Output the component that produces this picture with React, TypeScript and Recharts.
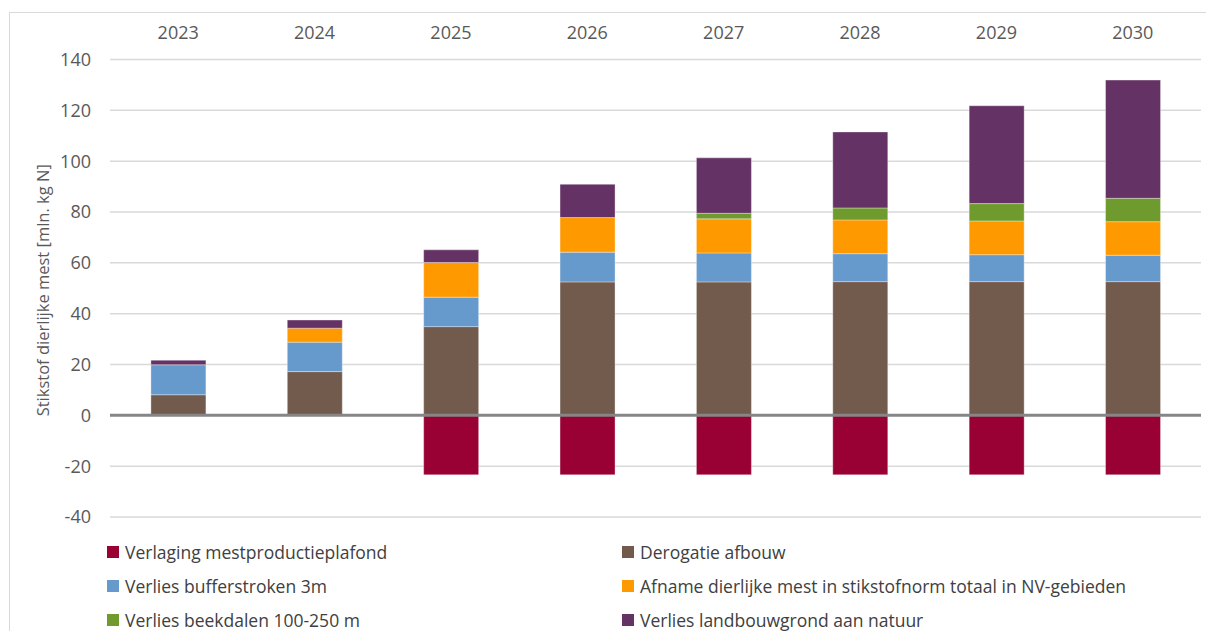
import { BarChart, Bar, XAxis, YAxis, CartesianGrid, ReferenceLine, Legend } from 'recharts'

const years = ['2023', '2024', '2025', '2026', '2027', '2028', '2029', '2030']

// mln. kg N
const verlaging = [0, 0, -23.4, -23.4, -23.4, -23.4, -23.4, -23.4]
const derogatie = [8.1, 17.2, 34.9, 52.5, 52.5, 52.6, 52.6, 52.6]
const bufferstroken = [11.8, 11.6, 11.6, 11.7, 11.4, 11.0, 10.6, 10.4]
const afname = [0, 5.5, 13.6, 13.6, 13.4, 13.3, 13.3, 13.2]
const beekdalen = [0, 0, 0, 0, 2.2, 4.7, 6.8, 9.2]
const natuur = [1.8, 3.2, 5.0, 13.1, 21.8, 29.9, 38.5, 46.5]

const yTicks = [-40, -20, 0, 20, 40, 60, 80, 100, 120, 140]

const series = [
  { key: 'verlaging', name: 'Verlaging mestproductieplafond', color: '#990033' },
  { key: 'derogatie', name: 'Derogatie afbouw', color: '#725a4d' },
  { key: 'bufferstroken', name: 'Verlies bufferstroken 3m', color: '#6699cc' },
  { key: 'afname', name: 'Afname dierlijke mest in stikstofnorm totaal in NV-gebieden', color: '#ff9900' },
  { key: 'beekdalen', name: 'Verlies beekdalen 100-250 m', color: '#6f9a2d' },
  { key: 'natuur', name: 'Verlies landbouwgrond aan natuur', color: '#643264' },
]

const data = years.map((year, i) => ({
  year,
  verlaging: verlaging[i],
  derogatie: derogatie[i],
  bufferstroken: bufferstroken[i],
  afname: afname[i],
  beekdalen: beekdalen[i],
  natuur: natuur[i],
}))

const FONT = '"Open Sans", sans-serif'

// height 0 so the legend does not shrink the plot area
function LegendGrid() {
  return (
    <div style={{ position: 'relative', width: 1214, height: 0, fontFamily: FONT }}>
      {series.map((s, i) => (
        <div
          key={s.key}
          style={{
            position: 'absolute',
            left: i % 2 === 0 ? 107 : 622,
            top: Math.floor(i / 2) * 34,
            display: 'flex',
            alignItems: 'center',
            fontSize: 17.5,
            color: '#404040',
            whiteSpace: 'nowrap',
          }}
        >
          <span style={{ width: 12, height: 12, background: s.color, marginRight: 6, display: 'inline-block' }} />
          {s.name}
        </div>
      ))}
    </div>
  )
}

function YLabel(props: any) {
  const vb = props.viewBox
  const cx = 42
  const cy = vb.y + vb.height / 2 + 2
  return (
    <text
      x={cx}
      y={cy}
      transform={`rotate(-90, ${cx}, ${cy})`}
      textAnchor="middle"
      dominantBaseline="central"
      fill="#595959"
      fontSize={16.5}
      fontFamily={FONT}
    >
      Stikstof dierlijke mest [mln. kg N]
    </text>
  )
}

export default function App() {
  return (
    <div style={{ position: 'relative', margin: -8, width: 1214, height: 639, background: '#fff' }}>
      <div
        style={{
          position: 'absolute',
          left: 9,
          top: 12,
          width: 1210,
          height: 630,
          border: '1px solid #d9d9d9',
          boxSizing: 'border-box',
        }}
      />
      <BarChart
        width={1214}
        height={639}
        data={data}
        stackOffset="sign"
        barCategoryGap="30%"
        margin={{ top: 30, right: 13, bottom: 122, left: 50 }}
        style={{ position: 'absolute', left: 0, top: 0, fontFamily: FONT }}
      >
        <CartesianGrid vertical={false} stroke="#d9d9d9" strokeWidth={1.5} />
        <XAxis
          dataKey="year"
          orientation="top"
          height={29.5}
          axisLine={false}
          tickLine={false}
          tickMargin={15}
          tick={{ fill: '#595959', fontSize: 18 }}
        />
        <YAxis
          domain={[-40, 140]}
          ticks={yTicks}
          width={60}
          axisLine={false}
          tickLine={false}
          tickMargin={13}
          tick={{ fill: '#595959', fontSize: 18 }}
          label={<YLabel />}
        />
        {series.map(s => (
          <Bar
            key={s.key}
            dataKey={s.key}
            name={s.name}
            stackId="a"
            fill={s.color}
            stroke="#ffffff"
            strokeOpacity={0.35}
            strokeWidth={1}
            isAnimationActive={false}
          />
        ))}
        <ReferenceLine y={0} stroke="#868686" strokeWidth={3} />
        <Legend
          content={() => <LegendGrid />}
          wrapperStyle={{ position: 'absolute', left: 0, top: 540, width: 1214, height: 0 }}
        />
      </BarChart>
    </div>
  )
}
